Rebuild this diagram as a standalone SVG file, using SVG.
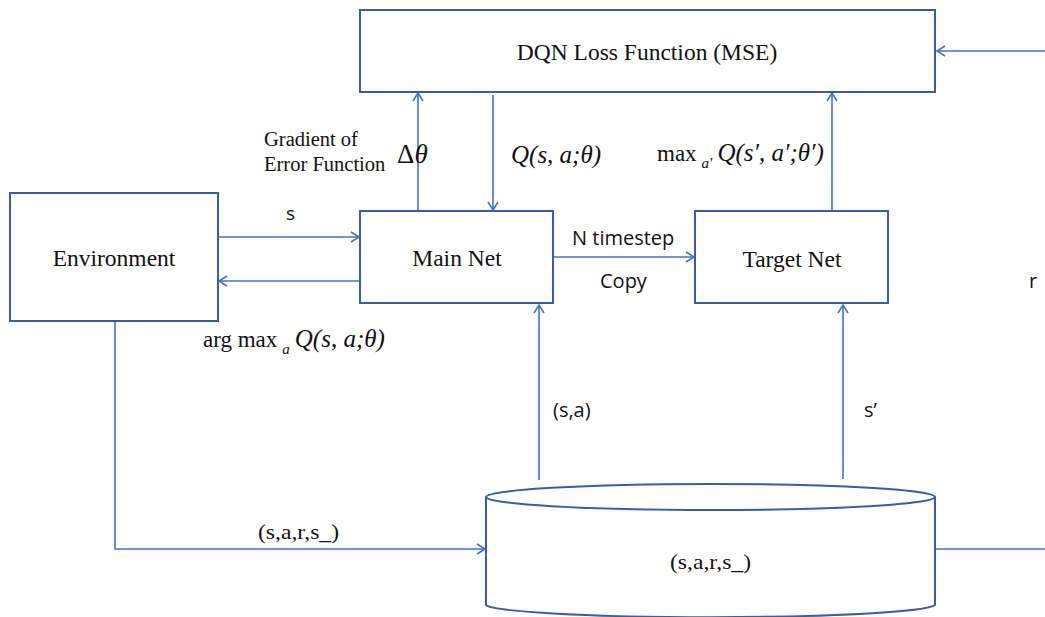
<svg xmlns="http://www.w3.org/2000/svg" width="1045" height="617" viewBox="0 0 1045 617">
<defs>
<marker id="ah" markerWidth="12" markerHeight="12" refX="10" refY="6" orient="auto" markerUnits="userSpaceOnUse">
<path d="M2,1 L10,6 L2,11" fill="none" stroke="#4472C4" stroke-width="1.6"/>
</marker>
<style>
.box{fill:#fff;stroke:#3A5BA8;stroke-width:2}
.ln{fill:none;stroke:#4472C4;stroke-width:1.6}
.ar{fill:none;stroke:#4472C4;stroke-width:1.6;marker-end:url(#ah)}
.serif{font-family:"Liberation Serif","Times New Roman",serif;fill:#111}
.sans{font-family:"Open Sans","Liberation Sans",sans-serif;fill:#111}
.it{font-style:italic}
</style>
</defs>
<rect width="1045" height="617" fill="#fff"/>

<g id="connectors">
<line class="ar" x1="1045" y1="51" x2="937" y2="51"/>
<line class="ar" x1="418" y1="211" x2="418" y2="93"/>
<line class="ar" x1="493" y1="95" x2="493" y2="210"/>
<line class="ar" x1="832" y1="211" x2="832" y2="93"/>
<line class="ar" x1="218" y1="237" x2="359" y2="237"/>
<line class="ar" x1="360" y1="281" x2="219" y2="281"/>
<line class="ar" x1="553" y1="257" x2="694" y2="257"/>
<line class="ar" x1="539" y1="480" x2="539" y2="305"/>
<line class="ar" x1="843" y1="479" x2="843" y2="305"/>
<polyline class="ar" points="115,321 115,549 485,549"/>
<line class="ln" x1="935" y1="549" x2="1045" y2="549"/>
</g>

<g id="loss">
<rect class="box" x="360" y="10" width="575" height="82"/>
<text class="serif" x="647" y="60" font-size="23.5" text-anchor="middle">DQN Loss Function (MSE)</text>
</g>

<g id="environment">
<rect class="box" x="10" y="193" width="208" height="128"/>
<text class="serif" x="114" y="266" font-size="23.5" text-anchor="middle">Environment</text>
</g>

<g id="main-net">
<rect class="box" x="360" y="211" width="193" height="92"/>
<text class="serif" x="457" y="266" font-size="23.5" text-anchor="middle">Main Net</text>
</g>

<g id="target-net">
<rect class="box" x="695" y="211" width="193" height="92"/>
<text class="serif" x="792" y="267" font-size="23.5" text-anchor="middle">Target Net</text>
</g>

<g id="replay-memory">
<path class="box" d="M486,497 L486,605 A225,13 0 0 0 935,605 L935,497"/>
<ellipse class="box" cx="710.5" cy="497" rx="224.5" ry="13"/>
<text class="serif" x="670" y="569" font-size="21" textLength="81" lengthAdjust="spacingAndGlyphs">(s,a,r,s_)</text>
</g>

<g id="labels">
<text class="serif" x="264" y="146" font-size="20.5">Gradient of</text>
<text class="serif" x="264" y="171" font-size="20.5">Error Function</text>
<text class="serif" x="397" y="163" font-size="27">Δ<tspan class="it">θ</tspan></text>
<text class="serif it" x="511" y="163" font-size="25">Q(s, a;θ)</text>
<text class="serif" x="657" y="161" font-size="23">max<tspan class="it" font-size="15" dx="5" dy="7">a′</tspan><tspan class="it" font-size="25" dx="5" dy="-7">Q(s′, a′;θ′)</tspan></text>
<text class="sans" x="286" y="220" font-size="19">s</text>
<text class="sans" x="572" y="245" font-size="20">N timestep</text>
<text class="sans" x="600" y="288" font-size="20">Copy</text>
<text class="sans" x="1029" y="288" font-size="20">r</text>
<text class="serif" x="203" y="347" font-size="23">arg max<tspan class="it" font-size="15" dx="5" dy="7">a</tspan><tspan class="it" font-size="25" dx="5" dy="-7">Q(s, a;θ)</tspan></text>
<text class="sans" x="553" y="417" font-size="20">(s,a)</text>
<text class="sans" x="864" y="417" font-size="20">s’</text>
<text class="serif" x="258" y="539" font-size="21" textLength="81" lengthAdjust="spacingAndGlyphs">(s,a,r,s_)</text>
</g>
</svg>
